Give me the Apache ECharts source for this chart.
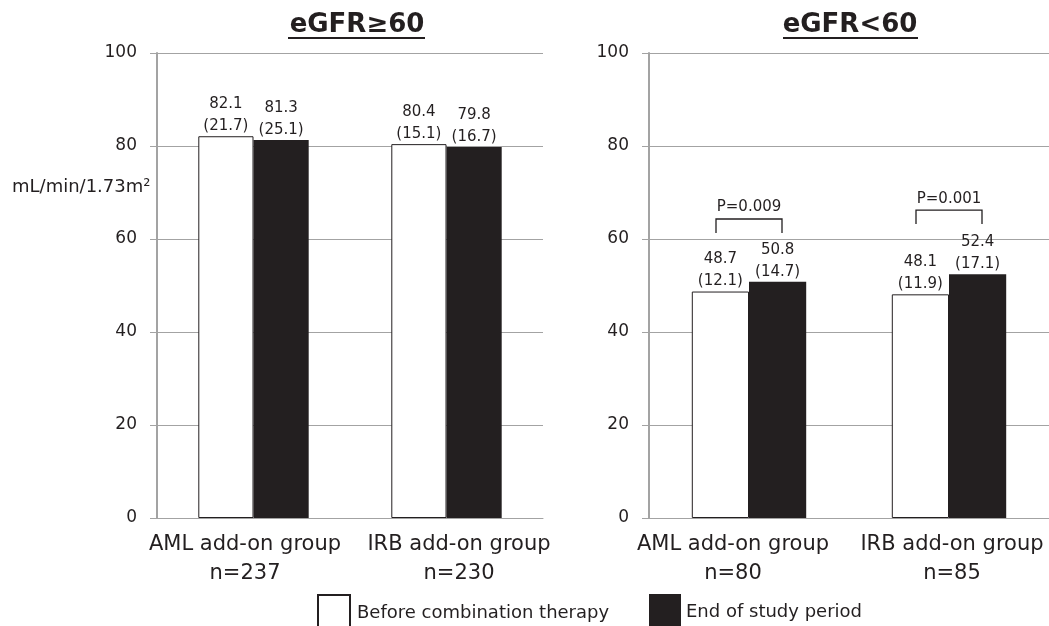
<!DOCTYPE html>
<html><head><meta charset="utf-8">
<script src="https://cdn.jsdelivr.net/npm/echarts/dist/echarts.min.js"></script>
<style>html,body{margin:0;padding:0;background:#fff}#c{width:1049px;height:626px}</style>
</head><body><div id="c"></div>
<script>
const groups = ['AML add-on group', 'IRB add-on group'];
const nHigh = [237, 230];
const nLow = [80, 85];
const seriesNames = ['Before combination therapy', 'End of study period'];
const highBefore = [82.1, 80.4];
const highBeforeSD = [21.7, 15.1];
const highEnd = [81.3, 79.8];
const highEndSD = [25.1, 16.7];
const lowBefore = [48.7, 48.1];
const lowBeforeSD = [12.1, 11.9];
const lowEnd = [50.8, 52.4];
const lowEndSD = [14.7, 17.1];
const pLabels = ['P=0.009', 'P=0.001'];
const bracketBottom = [61.3, 63.2];
const bracketTop = [64.3, 66.2];
const panelTitles = ['eGFR≥60', 'eGFR<60'];
const yAxisName = 'mL/min/1.73m²';

const FONT = 'DejaVu Sans';
const INK = '#231f20';
const GRID = '#a3a3a3';

const chart = echarts.init(document.getElementById('c'), null, {renderer: 'canvas'});

function catData(ns, pads) {
  return groups.map((g, i) => ({
    value: g + '\nn=' + ns[i],
    textStyle: {padding: pads[i]}
  }));
}

function yAxisCfg(gridIndex) {
  return {
    type: 'value', gridIndex: gridIndex, min: 0, max: 100, interval: 20,
    axisLine: {show: true, lineStyle: {color: GRID, width: 2}},
    axisTick: {show: true, length: 7, lineStyle: {color: GRID, width: 1}},
    splitLine: {show: true, lineStyle: {color: GRID, width: 1}},
    axisLabel: {fontSize: 17, fontFamily: FONT, color: INK, margin: 20}
  };
}

function xAxisCfg(gridIndex, data) {
  return {
    type: 'category', gridIndex: gridIndex, data: data,
    axisLine: {show: true, lineStyle: {color: GRID, width: 1}},
    axisTick: {show: false},
    axisLabel: {interval: 0, fontSize: 21, lineHeight: 29, fontFamily: FONT, color: INK, margin: 12}
  };
}

function labelFor(sds) {
  return {
    show: true, position: 'top', distance: -1,
    fontSize: 15, lineHeight: 22, fontFamily: FONT, color: INK,
    formatter: p => p.value.toFixed(1) + '\n(' + sds[p.dataIndex].toFixed(1) + ')'
  };
}

const whiteStyle = {color: '#ffffff', borderColor: INK, borderWidth: 1};
const blackStyle = {color: INK};

function barSeries(name, idx, data, sds, style) {
  return {
    type: 'bar', name: name, xAxisIndex: idx, yAxisIndex: idx, data: data,
    barWidth: '28.6%', barGap: '0%', itemStyle: style, label: labelFor(sds),
    emphasis: {disabled: true}
  };
}

const option = {
  animation: false,
  backgroundColor: '#ffffff',
  grid: [
    {left: 157, right: 506, top: 53, bottom: 108},
    {left: 649, right: 0, top: 53, bottom: 108}
  ],
  xAxis: [
    xAxisCfg(0, catData(nHigh, [[0, 17, 0, 0], [0, 0, 0, 25]])),
    xAxisCfg(1, catData(nLow, [[0, 32, 0, 0], [0, 0, 0, 6]]))
  ],
  yAxis: [yAxisCfg(0), yAxisCfg(1)],
  legend: [
    {data: [seriesNames[0]], left: 312, top: 589, itemWidth: 32, itemHeight: 36, icon: 'rect',
     selectedMode: false, itemGap: 0, textStyle: {fontSize: 18, fontFamily: FONT, color: INK, padding: [0, 0, 0, 2]}},
    {data: [seriesNames[1]], left: 644, top: 589, itemWidth: 32, itemHeight: 36, icon: 'rect',
     selectedMode: false, itemGap: 0, textStyle: {fontSize: 18, fontFamily: FONT, color: INK}}
  ],
  series: [
    barSeries(seriesNames[0], 0, highBefore, highBeforeSD, whiteStyle),
    barSeries(seriesNames[1], 0, highEnd, highEndSD, blackStyle),
    barSeries(seriesNames[0], 1, lowBefore, lowBeforeSD, whiteStyle),
    barSeries(seriesNames[1], 1, lowEnd, lowEndSD, blackStyle),
    {
      type: 'custom', xAxisIndex: 1, yAxisIndex: 1, silent: true,
      data: groups.map((g, i) => [i, bracketBottom[i], bracketTop[i]]),
      renderItem: function (params, api) {
        const i = api.value(0);
        const band = api.size([1, 0])[0];
        const half = band * 0.165;
        const t = api.coord([i, api.value(2)]);
        const b = api.coord([i, api.value(1)]);
        const x0 = t[0] - half, x1 = t[0] + half;
        return {
          type: 'group',
          children: [
            {type: 'polyline', shape: {points: [[x0, b[1]], [x0, t[1]], [x1, t[1]], [x1, b[1]]]},
             style: {stroke: INK, lineWidth: 1.3, fill: null}},
            {type: 'text', x: t[0], y: t[1] - 4,
             style: {text: pLabels[params.dataIndex], align: 'center', verticalAlign: 'bottom',
                     fill: INK, fontSize: 15, fontFamily: FONT}}
          ]
        };
      }
    }
  ],
  graphic: [
    {type: 'text', x: 357, y: 25, style: {text: panelTitles[0], align: 'center', verticalAlign: 'middle',
      fontSize: 26, fontWeight: 'bold', fontFamily: FONT, fill: INK}},
    {type: 'line', shape: {x1: 288, y1: 38, x2: 425, y2: 38}, style: {stroke: INK, lineWidth: 2}},
    {type: 'text', x: 850, y: 25, style: {text: panelTitles[1], align: 'center', verticalAlign: 'middle',
      fontSize: 26, fontWeight: 'bold', fontFamily: FONT, fill: INK}},
    {type: 'line', shape: {x1: 783, y1: 38, x2: 918, y2: 38}, style: {stroke: INK, lineWidth: 2}},
    {type: 'text', x: 12, y: 187, style: {text: yAxisName, align: 'left', verticalAlign: 'middle',
      fontSize: 18, fontFamily: FONT, fill: INK}}
  ]
};
chart.setOption(option);
</script>
</body></html>
